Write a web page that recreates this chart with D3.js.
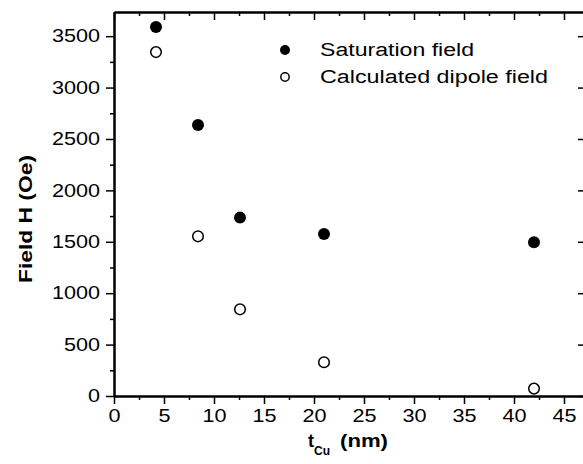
<!DOCTYPE html>
<meta charset="utf-8">
<title>Field vs tCu</title>
<script src="https://d3js.org/d3.v7.min.js"></script>
<style>
body { margin: 0; background: #fff; }
text { font-family: "Liberation Sans", Arial, sans-serif; fill: #000; }
</style>
<div id="chart"></div>
<script>
// data
const tCu = [4.2, 8.4, 12.6, 21, 42];
const saturation = [3590, 2635, 1735, 1575, 1495];
const dipole = [3345, 1553, 843, 328, 72];
const xTicks = [0, 5, 10, 15, 20, 25, 30, 35, 40, 45];
const yTicks = [0, 500, 1000, 1500, 2000, 2500, 3000, 3500];
const legendLabels = ["Saturation field", "Calculated dipole field"];

const W = 583, H = 464;
const margin = {top: 12, left: 114};
const width = 472, height = 384;

const svg = d3.select("#chart").append("svg")
    .attr("width", W).attr("height", H);
const g = svg.append("g").attr("transform", `translate(${margin.left},${margin.top})`);

const x = d3.scaleLinear().domain([0, 47.2]).range([0, width]);
const y = d3.scaleLinear().domain([0, 3735]).range([height, 0]);

const minorX = d3.range(2.5, 47, 5);
const minorY = d3.range(250, 3735, 500);

function styleAxis(sel) {
  sel.select(".domain").attr("stroke", "#000").attr("stroke-width", 2);
  sel.selectAll(".tick line").attr("stroke", "#000").attr("stroke-width", 1.5);
}

// bottom
g.append("g").attr("transform", `translate(0,${height})`)
  .call(d3.axisBottom(x).tickValues(xTicks).tickSize(8).tickPadding(5).tickSizeOuter(0))
  .call(styleAxis)
  .call(a => a.selectAll("text").style("font-size", "18px"));
g.append("g").attr("transform", `translate(0,${height})`)
  .call(d3.axisBottom(x).tickValues(minorX).tickSize(4).tickFormat("").tickSizeOuter(0))
  .call(styleAxis);
// top
g.append("g")
  .call(d3.axisBottom(x).tickValues(xTicks).tickSize(8).tickFormat("").tickSizeOuter(0))
  .call(styleAxis);
g.append("g")
  .call(d3.axisBottom(x).tickValues(minorX).tickSize(4).tickFormat("").tickSizeOuter(0))
  .call(styleAxis);
// left
g.append("g")
  .call(d3.axisLeft(y).tickValues(yTicks).tickFormat(d3.format("d")).tickSize(8).tickPadding(6).tickSizeOuter(0))
  .call(styleAxis)
  .call(a => a.selectAll("text").style("font-size", "18px"));
g.append("g")
  .call(d3.axisLeft(y).tickValues(minorY).tickSize(4).tickFormat("").tickSizeOuter(0))
  .call(styleAxis);
// right
g.append("g").attr("transform", `translate(${width},0)`)
  .call(d3.axisLeft(y).tickValues(yTicks).tickSize(8).tickFormat("").tickSizeOuter(0))
  .call(styleAxis);

// stretch tick labels a bit wider, as in the picture
g.selectAll(".tick text").each(function() {
  const len = this.getComputedTextLength();
  if (len > 0) d3.select(this).attr("textLength", len * 1.2).attr("lengthAdjust", "spacingAndGlyphs");
});

// points
g.selectAll("circle.sat").data(tCu).join("circle")
  .attr("class", "sat")
  .attr("cx", d => x(d)).attr("cy", (d, i) => y(saturation[i]))
  .attr("r", 6).attr("fill", "#000");
g.selectAll("circle.dip").data(tCu).join("circle")
  .attr("class", "dip")
  .attr("cx", d => x(d)).attr("cy", (d, i) => y(dipole[i]))
  .attr("r", 5.3).attr("fill", "#fff").attr("stroke", "#000").attr("stroke-width", 1.5);

// legend
const leg = svg.append("g").attr("transform", "translate(285,50)");
leg.append("circle").attr("cx", 0).attr("cy", 0).attr("r", 5).attr("fill", "#000");
leg.append("circle").attr("cx", 0).attr("cy", 27).attr("r", 4.2)
  .attr("fill", "#fff").attr("stroke", "#000").attr("stroke-width", 1.5);
leg.selectAll("text").data(legendLabels).join("text")
  .attr("x", 35).attr("y", (d, i) => 6 + i * 27)
  .style("font-size", "18px")
  .attr("textLength", (d, i) => [154, 228][i])
  .attr("lengthAdjust", "spacingAndGlyphs")
  .text(d => d);

// axis titles
svg.append("text")
  .attr("transform", "translate(32,219) rotate(-90)")
  .attr("text-anchor", "middle")
  .style("font-size", "18px").style("font-weight", "bold")
  .attr("textLength", 128).attr("lengthAdjust", "spacingAndGlyphs")
  .text("Field H (Oe)");

const xt = svg.append("text").attr("y", 447)
  .style("font-size", "18px").style("font-weight", "bold");
xt.append("tspan").attr("x", 308).text("t");
xt.append("tspan").attr("dy", 8).style("font-size", "12px").text("Cu");
xt.append("tspan").attr("x", 340).attr("dy", -8).attr("textLength", 48)
  .attr("lengthAdjust", "spacingAndGlyphs").text("(nm)");
</script>
